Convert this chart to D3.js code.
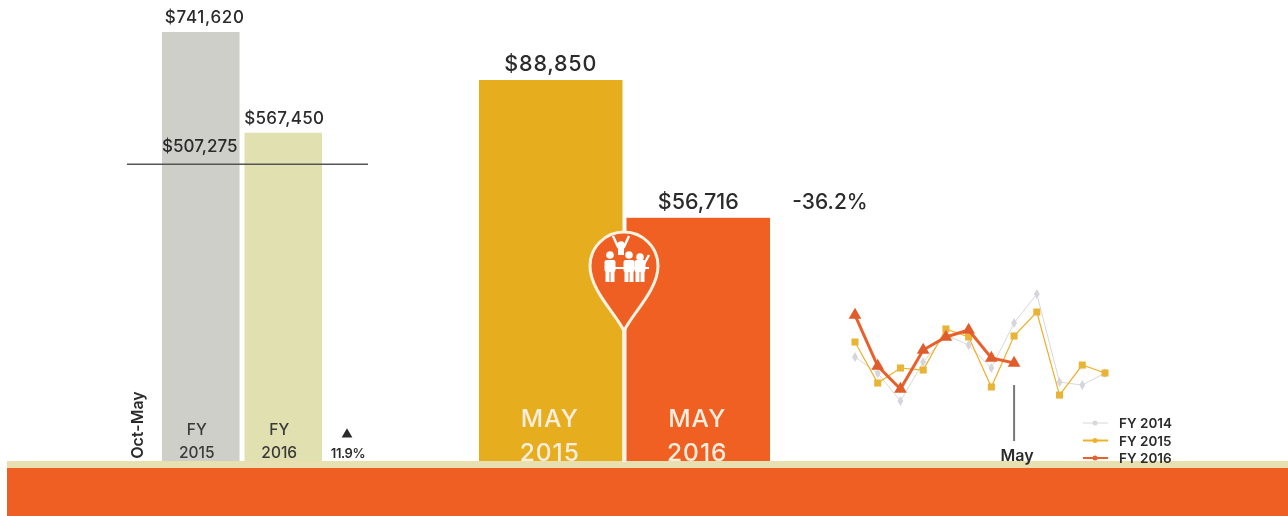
<!DOCTYPE html>
<html>
<head>
<meta charset="utf-8">
<script src="https://cdnjs.cloudflare.com/ajax/libs/d3/7.8.5/d3.min.js"></script>
<style>
html,body{margin:0;padding:0;background:#fff;overflow:hidden;}
svg{display:block;filter:blur(0.6px);}
text{font-family:"Inter","Lato",sans-serif;}
</style>
</head>
<body>
<svg id="chart" width="1288" height="516"></svg>
<script>
// year to date bars
var ytdNames = ["FY 2015","FY 2016"];
var ytdValues = [741620,567450];
var ytdLabels = ["$741,620","$567,450"];
var ytdColors = ["#cfcfca","#e1e0b0"];
var avgLabel = "$507,275";
var avgLineValue = 513000; // where the rule sits in the picture

// month bars
var mayNames = ["MAY 2015","MAY 2016"];
var mayValues = [88850,56716];
var mayLabels = ["$88,850","$56,716"];
var mayColors = ["#e6ae1e","#f06022"];

// monthly lines
var months = ["Oct","Nov","Dec","Jan","Feb","Mar","Apr","May","Jun","Jul","Aug","Sep"];
var fy2014 = [63900,44800,11500,57900,90000,78100,50800,104300,138800,34100,30500,44800];
var fy2015 = [81700,32900,50800,48400,97200,87700,28200,88850,117400,18600,54300,44800];
var fy2016 = [113800,53100,25800,72200,87700,96000,62700,56716];
var lineNames = ["FY 2014","FY 2015","FY 2016"];
var lineColors = ["#d9d8d6","#efb02a","#e8602c"];

var svg = d3.select("#chart");
var ink = "#2b2b2b";
var baseY = 461;

// ground bands
svg.append("rect").attr("x",7).attr("y",461).attr("width",1281).attr("height",8).attr("fill","#e9e0b2");
svg.append("rect").attr("x",7).attr("y",468).attr("width",1281).attr("height",48).attr("fill","#ef5f23");

// left bars
var yYtd = d3.scaleLinear().domain([0,741620]).range([baseY,32]);
var xYtd = d3.scaleBand().domain(ytdNames).range([162,322]).paddingInner(0.06);

svg.selectAll(".ytd")
	.data(ytdNames)
	.enter()
	.append("rect")
	.attr("class","ytd")
	.attr("x",function(d){return xYtd(d);})
	.attr("y",function(d,i){return yYtd(ytdValues[i]);})
	.attr("width",xYtd.bandwidth())
	.attr("height",function(d,i){return baseY-yYtd(ytdValues[i]);})
	.attr("fill",function(d,i){return ytdColors[i];});

svg.selectAll(".ytdLabel")
	.data(ytdNames)
	.enter()
	.append("text")
	.attr("class","ytdLabel")
	.attr("x",function(d,i){return xYtd(d)+xYtd.bandwidth()/2+(i==0?4:1);})
	.attr("y",function(d,i){return yYtd(ytdValues[i])-9;})
	.attr("text-anchor","middle")
	.attr("font-size",17)
	.attr("font-weight",500)
	.attr("letter-spacing",function(d,i){return i==0?"0.7":"0.3";})
	.attr("fill",ink)
	.text(function(d,i){return ytdLabels[i];});

svg.selectAll(".ytdName")
	.data(ytdNames)
	.enter()
	.append("g")
	.attr("class","ytdName")
	.each(function(d){
		var parts = d.split(" ");
		var cx = xYtd(d)+xYtd.bandwidth()/2-4;
		d3.select(this).append("text").attr("x",cx).attr("y",435).text(parts[0]);
		d3.select(this).append("text").attr("x",cx).attr("y",458).text(parts[1]);
	})
	.selectAll("text")
	.attr("text-anchor","middle")
	.attr("font-size",15.5)
	.attr("font-weight",500)
	.attr("fill","#3a3a3a");

svg.append("text")
	.attr("x",xYtd("FY 2015")+xYtd.bandwidth()/2-1)
	.attr("y",yYtd(avgLineValue)-12)
	.attr("text-anchor","middle")
	.attr("font-size",17)
	.attr("font-weight",500)
	.attr("fill",ink)
	.text(avgLabel);

svg.append("line")
	.attr("x1",127).attr("x2",368)
	.attr("y1",yYtd(avgLineValue)).attr("y2",yYtd(avgLineValue))
	.attr("stroke","#555").attr("stroke-width",1.5);

svg.append("text")
	.attr("transform","translate(143,425) rotate(-90)")
	.attr("text-anchor","middle")
	.attr("font-size",16)
	.attr("font-weight",600)
	.attr("fill",ink)
	.text("Oct-May");

svg.append("path")
	.attr("d",d3.symbol(d3.symbolTriangle,50)())
	.attr("transform","translate(347,434.5)")
	.attr("fill",ink);

svg.append("text")
	.attr("x",348).attr("y",458)
	.attr("text-anchor","middle")
	.attr("font-size",13)
	.attr("font-weight",600)
	.attr("letter-spacing","-0.4")
	.attr("fill",ink)
	.text("11.9%");

// middle bars
var yMay = d3.scaleLinear().domain([0,88850]).range([baseY,80]);
var xMay = d3.scaleBand().domain(mayNames).range([479,770]).paddingInner(0.027);

svg.selectAll(".may")
	.data(mayNames)
	.enter()
	.append("rect")
	.attr("class","may")
	.attr("x",function(d){return xMay(d);})
	.attr("y",function(d,i){return yMay(mayValues[i]);})
	.attr("width",xMay.bandwidth())
	.attr("height",function(d,i){return baseY-yMay(mayValues[i]);})
	.attr("fill",function(d,i){return mayColors[i];});

svg.selectAll(".mayLabel")
	.data(mayNames)
	.enter()
	.append("text")
	.attr("class","mayLabel")
	.attr("x",function(d){return xMay(d)+xMay.bandwidth()/2;})
	.attr("y",function(d,i){return yMay(mayValues[i])-9;})
	.attr("text-anchor","middle")
	.attr("font-size",21.5)
	.attr("font-weight",500)
	.attr("letter-spacing",function(d,i){return i==0?"0.8":"0";})
	.attr("fill",ink)
	.text(function(d,i){return mayLabels[i];});

svg.selectAll(".mayName")
	.data(mayNames)
	.enter()
	.append("g")
	.attr("class","mayName")
	.each(function(d){
		var parts = d.split(" ");
		var cx = xMay(d)+xMay.bandwidth()/2-1;
		d3.select(this).append("text").attr("x",cx).attr("y",427).text(parts[0]);
		d3.select(this).append("text").attr("x",cx).attr("y",461).text(parts[1]);
	})
	.selectAll("text")
	.attr("text-anchor","middle")
	.attr("font-size",24.5)
	.attr("font-weight",500)
	.attr("letter-spacing","1")
	.attr("fill","#fbeede");

svg.append("text")
	.attr("x",830).attr("y",209)
	.attr("text-anchor","middle")
	.attr("font-size",21)
	.attr("font-weight",500)
	.attr("fill",ink)
	.text("-36.2%");

// pin
svg.append("line")
	.attr("x1",624).attr("x2",624).attr("y1",330).attr("y2",462)
	.attr("stroke","#fbf3e2").attr("stroke-width",3.5);

var pin = svg.append("g").attr("transform","translate(624,266)");
pin.append("path")
	.attr("d","M0,65 C-8,48 -34,24 -34,0 A34,34 0 1 1 34,0 C34,24 8,48 0,65 Z")
	.attr("fill","#ef5f23")
	.attr("stroke","#fbf3e2")
	.attr("stroke-width",3);

var people = pin.append("g").attr("fill","#fff").attr("stroke","#fff");
// raised figure at the back
people.append("circle").attr("cx",-3).attr("cy",-21).attr("r",3.8).attr("stroke","none");
people.append("path").attr("d","M-11,-30 L-6,-19 L0,-19 L5,-30").attr("fill","none").attr("stroke-width",2.4);
people.append("rect").attr("x",-6).attr("y",-18).attr("width",6).attr("height",7).attr("stroke","none");
// three front figures
var heads = [-14,5,16];
heads.forEach(function(hx,i){
	people.append("circle").attr("cx",hx).attr("cy",i==2?-9:-11).attr("r",3.8).attr("stroke","none");
	people.append("rect").attr("x",hx-5.5).attr("y",-6).attr("width",11).attr("height",12).attr("rx",2).attr("stroke","none");
	people.append("rect").attr("x",hx-4.5).attr("y",5).attr("width",4).attr("height",11).attr("stroke","none");
	people.append("rect").attr("x",hx+0.5).attr("y",5).attr("width",4).attr("height",11).attr("stroke","none");
});
people.append("path").attr("d","M-9,2 L25,2").attr("stroke-width",2);
people.append("path").attr("d","M20,-2 L25,-11").attr("stroke-width",2.5);

// monthly lines
var xLine = d3.scalePoint().domain(months).range([855,1105]);
var yLine = d3.scaleLinear().domain([0,150000]).range([410.7,284.6]);
var lineGen = d3.line()
	.x(function(d,i){return xLine(months[i]);})
	.y(function(d){return yLine(d);});

var lineData = [fy2014,fy2015,fy2016];
var lineWidths = [1,1.2,3];
var dotSymbols = [d3.symbolDiamond,d3.symbolSquare,d3.symbolTriangle];
var dotAreas = [30,50,70];
var dotColors = ["#d5d5de","#e8b436","#e05c2c"];

lineData.forEach(function(vals,k){
	svg.append("path")
		.datum(vals)
		.attr("d",lineGen)
		.attr("fill","none")
		.attr("stroke",lineColors[k])
		.attr("stroke-width",lineWidths[k]);
	svg.selectAll(".dot"+k)
		.data(vals)
		.enter()
		.append("path")
		.attr("class","dot"+k)
		.attr("d",d3.symbol(dotSymbols[k],dotAreas[k])())
		.attr("transform",function(d,i){return "translate("+xLine(months[i])+","+yLine(d)+")";})
		.attr("fill",dotColors[k]);
});

// May marker
svg.append("line")
	.attr("x1",xLine("May")).attr("x2",xLine("May"))
	.attr("y1",385).attr("y2",441)
	.attr("stroke","#777").attr("stroke-width",2);
svg.append("text")
	.attr("x",xLine("May")+3).attr("y",461)
	.attr("text-anchor","middle")
	.attr("font-size",16)
	.attr("font-weight",600)
	.attr("fill",ink)
	.text("May");

// legend
var yLegend = d3.scalePoint().domain(lineNames).range([423,458]);
lineNames.forEach(function(name,k){
	var ly = yLegend(name);
	svg.append("line")
		.attr("x1",1083).attr("x2",1108).attr("y1",ly).attr("y2",ly)
		.attr("stroke",lineColors[k]).attr("stroke-width",k==0?1:2);
	svg.append("circle")
		.attr("cx",1095).attr("cy",ly).attr("r",2.5)
		.attr("fill",lineColors[k]);
	svg.append("text")
		.attr("x",1119).attr("y",ly+5)
		.attr("font-size",13.5)
		.attr("font-weight",600)
		.attr("fill",ink)
		.text(name);
});
</script>
</body>
</html>
